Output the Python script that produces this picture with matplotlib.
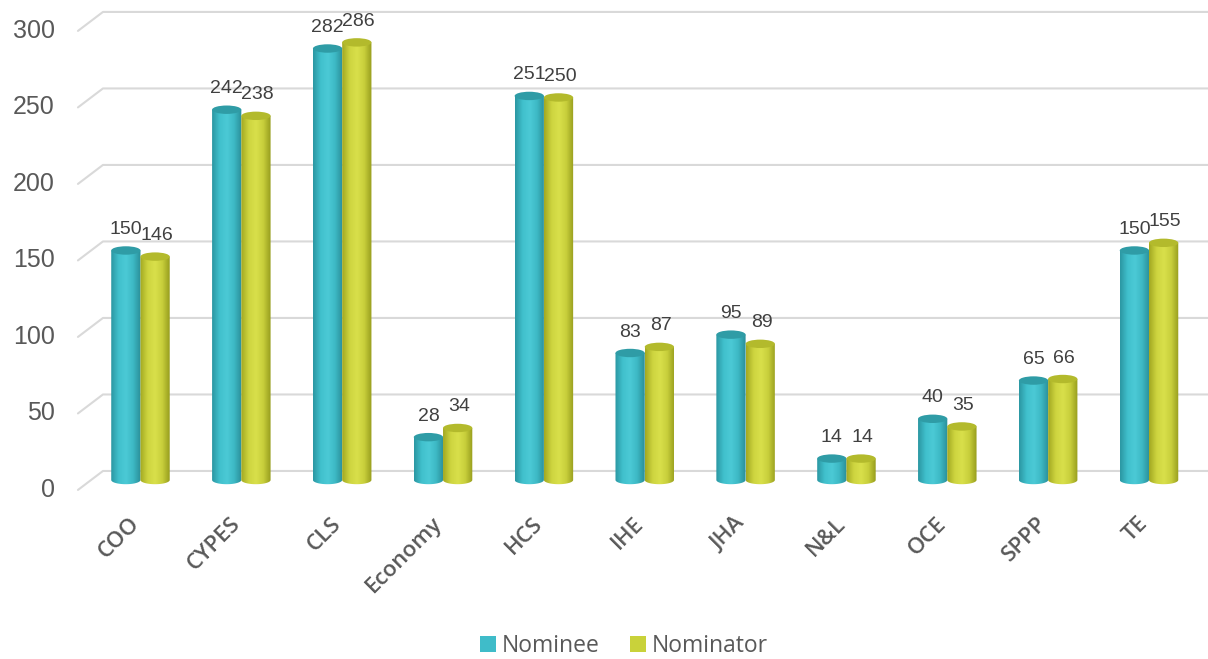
import numpy as np
import matplotlib
matplotlib.use("Agg")
import matplotlib.pyplot as plt
from matplotlib.colors import LinearSegmentedColormap
from matplotlib.patches import Ellipse, PathPatch, Patch
from matplotlib.path import Path

# =====================================================
# Data
# =====================================================

categories = ["COO", "CYPES", "CLS", "Economy", "HCS", "IHE",
              "JHA", "N&L", "OCE", "SPPP", "TE"]
nominee = [150, 242, 282, 28, 251, 83, 95, 14, 40, 65, 150]
nominator = [146, 238, 286, 34, 250, 87, 89, 14, 35, 66, 155]
y_ticks = [0, 50, 100, 150, 200, 250, 300]

# =====================================================
# Styles
# =====================================================

text_grey = "#595959"
grid_grey = "#D9D9D9"

teal_cmap = LinearSegmentedColormap.from_list(
    "teal", ["#2B97A2", "#40C0CC", "#4CCAD6", "#3DB8C4", "#2A8E98"])
yellow_cmap = LinearSegmentedColormap.from_list(
    "yellow", ["#A2A822", "#CDD43F", "#D9E04B", "#C8CF3B", "#979D1E"])
teal_top = "#2F9CA6"
yellow_top = "#B3BA2C"

bar_w = 0.29
cap_h = 5.5          # height of the cylinder ellipse in data units
back_dy = 5.9        # back wall offset of gridlines (data units)
front_dy = -6.5      # front end of the slanted gridline

fig = plt.figure(figsize=(12.08, 6.59), dpi=100)
ax = fig.add_axes([60 / 1208, 159 / 659, 1148 / 1208, 500 / 659])
ax.set_xlim(-0.798, 10.585)
ax.set_ylim(-13.07, 313.7)
ax.axis("off")

# gridlines with a little perspective slant on the left
for v in y_ticks:
    ax.plot([-0.62, -0.372, 11], [v + front_dy, v + back_dy, v + back_dy],
            color=grid_grey, lw=1.5, zorder=1, solid_capstyle="round")
    ax.text(-0.85, v + front_dy, str(v), ha="right", va="center",
            fontsize=18, color=text_grey, family="Liberation Sans",
            clip_on=False)


def cylinder(xc, value, cmap, top_color):
    x0, x1 = xc - bar_w / 2, xc + bar_w / 2
    t = np.linspace(np.pi, 2 * np.pi, 30)
    bx = xc + bar_w / 2 * np.cos(t)
    by = cap_h / 2 * np.sin(t)
    verts = list(zip(bx, by)) + [(x1, value), (x0, value), (bx[0], by[0])]
    codes = [Path.MOVETO] + [Path.LINETO] * (len(verts) - 2) + [Path.CLOSEPOLY]
    body = PathPatch(Path(verts, codes), facecolor="none", edgecolor="none")
    ax.add_patch(body)
    grad = np.linspace(0, 1, 64).reshape(1, -1)
    im = ax.imshow(grad, cmap=cmap, aspect="auto", zorder=3,
                   extent=[x0, x1, -cap_h, value], interpolation="bicubic")
    im.set_clip_path(body)
    ax.add_patch(Ellipse((xc, value), bar_w, cap_h, facecolor=top_color,
                         edgecolor="none", zorder=4))


for i, cat in enumerate(categories):
    cylinder(i - 0.145, nominee[i], teal_cmap, teal_top)
    cylinder(i + 0.145, nominator[i], yellow_cmap, yellow_top)

    ax.annotate(str(nominee[i]), (i - 0.145, nominee[i]), xytext=(0, 9),
                textcoords="offset points", ha="center", va="bottom",
                fontsize=14, color="#404040", family="Liberation Sans")
    ax.annotate(str(nominator[i]), (i + 0.16, nominator[i]), xytext=(0, 9),
                textcoords="offset points", ha="center", va="bottom",
                fontsize=14, color="#404040", family="Liberation Sans")

    ax.text(i - 0.04, -26.5, cat, rotation=45, rotation_mode="anchor",
            ha="right", va="center", fontsize=16, fontweight="semibold",
            color=text_grey, family="Open Sans", clip_on=False)

ax.set_xlim(-0.798, 10.585)
ax.set_ylim(-13.07, 313.7)

handles = [Patch(facecolor="#3FBCC9", edgecolor="none", label="Nominee"),
           Patch(facecolor="#C9D23A", edgecolor="none", label="Nominator")]
leg = fig.legend(handles=handles, loc="center", ncol=2, frameon=False,
                 bbox_to_anchor=(624 / 1208, 1 - 646 / 659),
                 prop={"family": "Open Sans", "size": 16.5},
                 handlelength=0.7, handleheight=0.7, handletextpad=0.25,
                 columnspacing=1.3)
for txt in leg.get_texts():
    txt.set_color(text_grey)

plt.savefig("out.png", dpi=100)
plt.close()
